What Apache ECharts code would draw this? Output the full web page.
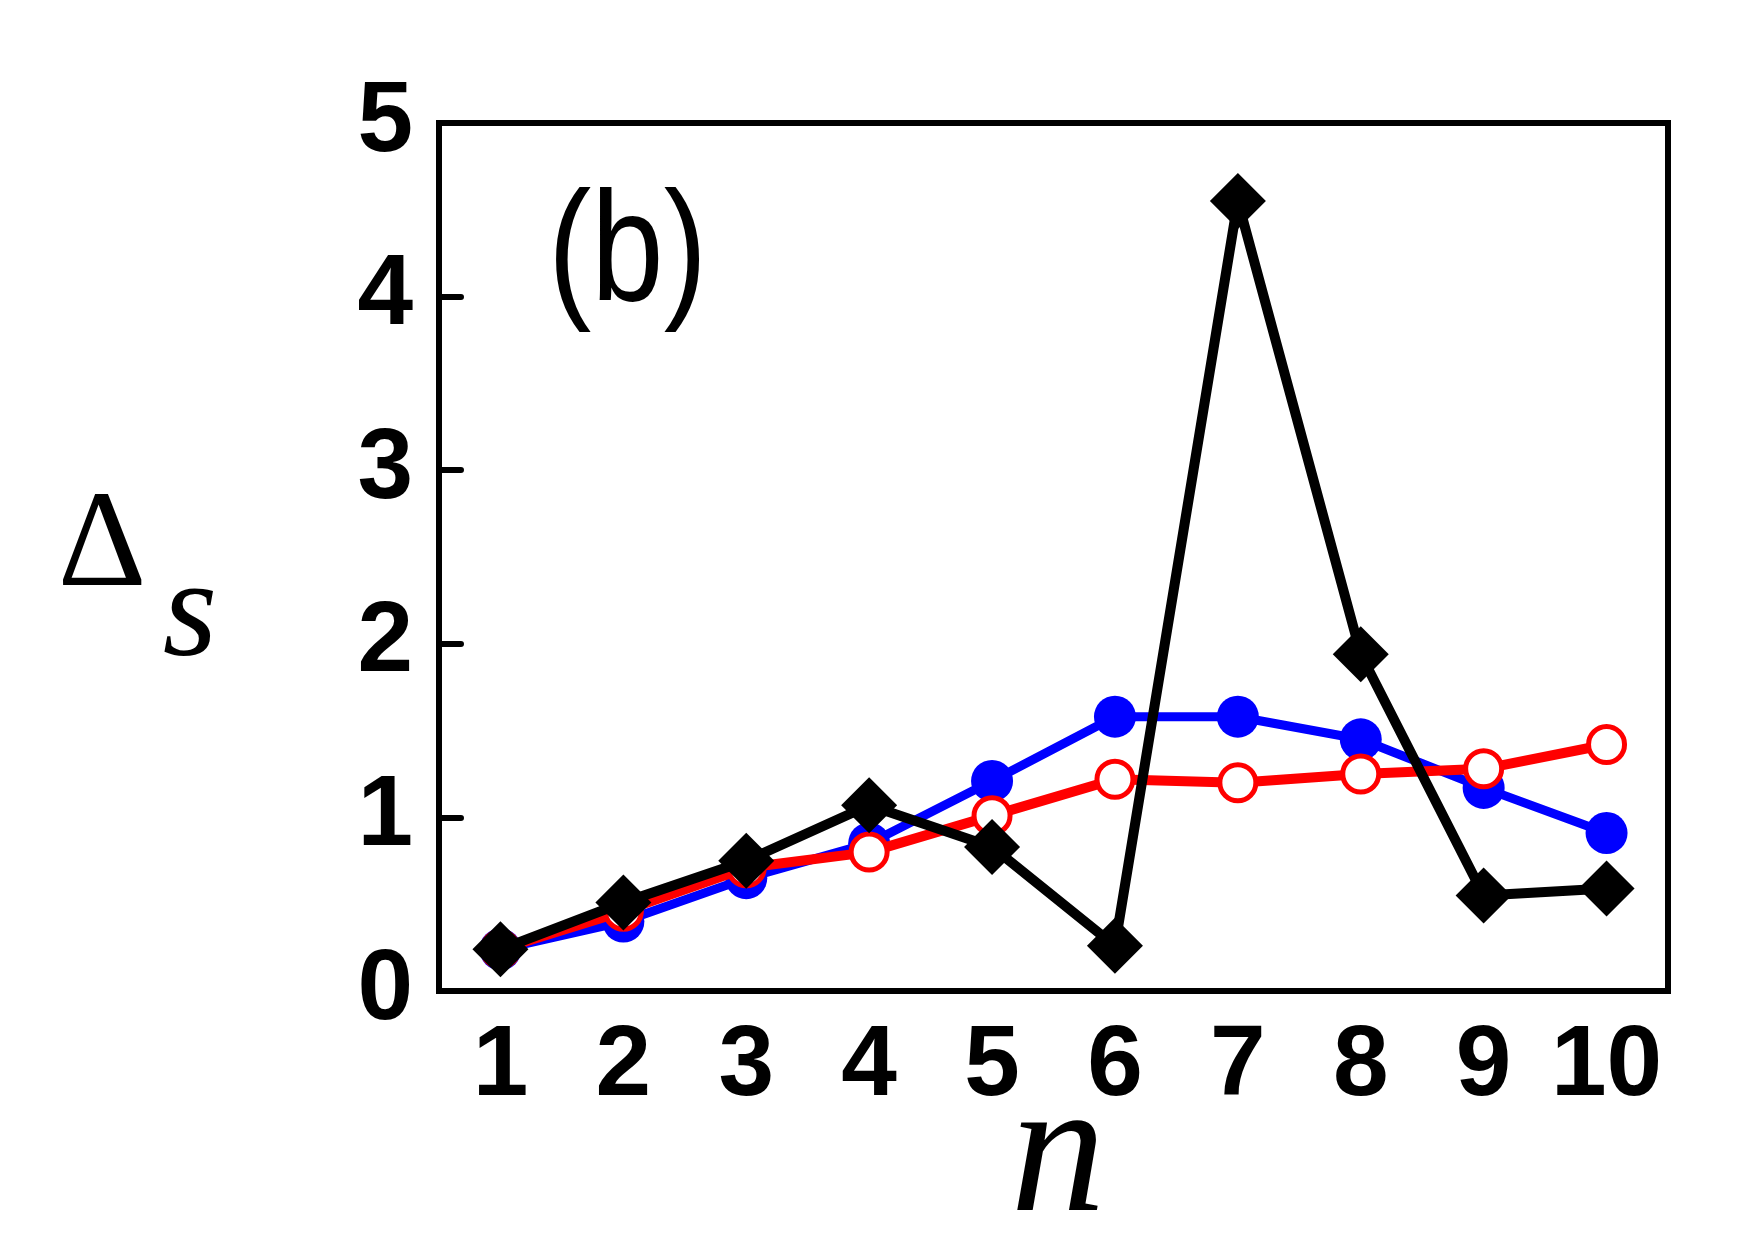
<!DOCTYPE html>
<html>
<head>
<meta charset="utf-8">
<script src="https://cdn.jsdelivr.net/npm/echarts@6/dist/echarts.min.js"></script>
<style>
  html, body { margin: 0; padding: 0; background: #fff; }
  #chart { width: 1755px; height: 1241px; }
</style>
</head>
<body>
<div id="chart"></div>
<script>
// n = 1..10
const categories = ['1', '2', '3', '4', '5', '6', '7', '8', '9', '10'];

// blue filled circles
const blueValues = [0.24, 0.40, 0.65, 0.85, 1.21, 1.58, 1.58, 1.45, 1.17, 0.91];
// red open circles
const redValues = [0.24, 0.46, 0.71, 0.80, 1.01, 1.22, 1.20, 1.25, 1.28, 1.42];
// black diamonds
const blackValues = [0.24, 0.51, 0.75, 1.07, 0.83, 0.26, 4.55, 1.94, 0.55, 0.59];

const tickFont = { fontFamily: 'Liberation Sans', fontWeight: 'bold', fontSize: 100, color: '#000' };

const chart = echarts.init(document.getElementById('chart'));

const option = {
  animation: false,
  backgroundColor: '#fff',
  grid: {
    left: 439, top: 123, right: 87, bottom: 250,
    show: true, borderColor: '#000', borderWidth: 6, backgroundColor: 'transparent'
  },
  xAxis: {
    type: 'category',
    data: categories,
    boundaryGap: true,
    axisLine: { lineStyle: { color: '#000', width: 6 } },
    axisTick: { inside: true, alignWithLabel: true, interval: 0, length: 22, lineStyle: { color: '#000', width: 6, cap: 'round' } },
    axisLabel: Object.assign({ margin: 26, interval: 0 }, tickFont),
    splitLine: { show: false }
  },
  yAxis: {
    type: 'value',
    min: 0, max: 5, interval: 1,
    axisLine: { show: true, lineStyle: { color: '#000', width: 6 } },
    axisTick: { show: true, inside: true, length: 22, lineStyle: { color: '#000', width: 6, cap: 'round' } },
    axisLabel: Object.assign({ margin: 26 }, tickFont),
    splitLine: { show: false }
  },
  graphic: [
    {
      type: 'text', x: 548, y: 257, scaleX: 0.84,
      style: { text: '(b)', font: 'normal 155px "Liberation Sans"', fill: '#000', verticalAlign: 'middle', align: 'left' }
    },
    {
      type: 'text', x: 102, y: 549,
      style: { text: 'Δ', font: 'normal 138px "Liberation Serif"', fill: '#000', verticalAlign: 'middle', align: 'center' }
    },
    {
      type: 'text', x: 190, y: 618,
      style: { text: 's', font: 'italic 140px "Liberation Serif"', fill: '#000', verticalAlign: 'middle', align: 'center' }
    },
    {
      type: 'text', x: 1058, y: 1160,
      style: { text: 'n', font: 'italic 190px "Liberation Serif"', fill: '#000', verticalAlign: 'middle', align: 'center' }
    }
  ],
  series: [
    {
      name: 'blue',
      type: 'line',
      data: blueValues,
      symbol: 'circle',
      symbolSize: 42,
      lineStyle: { color: '#0000ff', width: 9 },
      itemStyle: { color: '#0000ff', borderWidth: 0 },
      z: 2
    },
    {
      name: 'red',
      type: 'line',
      data: redValues,
      symbol: 'circle',
      symbolSize: 36,
      lineStyle: { color: '#ff0000', width: 10 },
      itemStyle: { color: '#ffffff', borderColor: '#ff0000', borderWidth: 5 },
      z: 3
    },
    {
      name: 'black',
      type: 'line',
      data: blackValues,
      symbol: 'diamond',
      symbolSize: [56, 56],
      lineStyle: { color: '#000', width: 10 },
      itemStyle: { color: '#000', borderWidth: 0 },
      z: 4
    }
  ]
};

chart.setOption(option);
</script>
</body>
</html>
